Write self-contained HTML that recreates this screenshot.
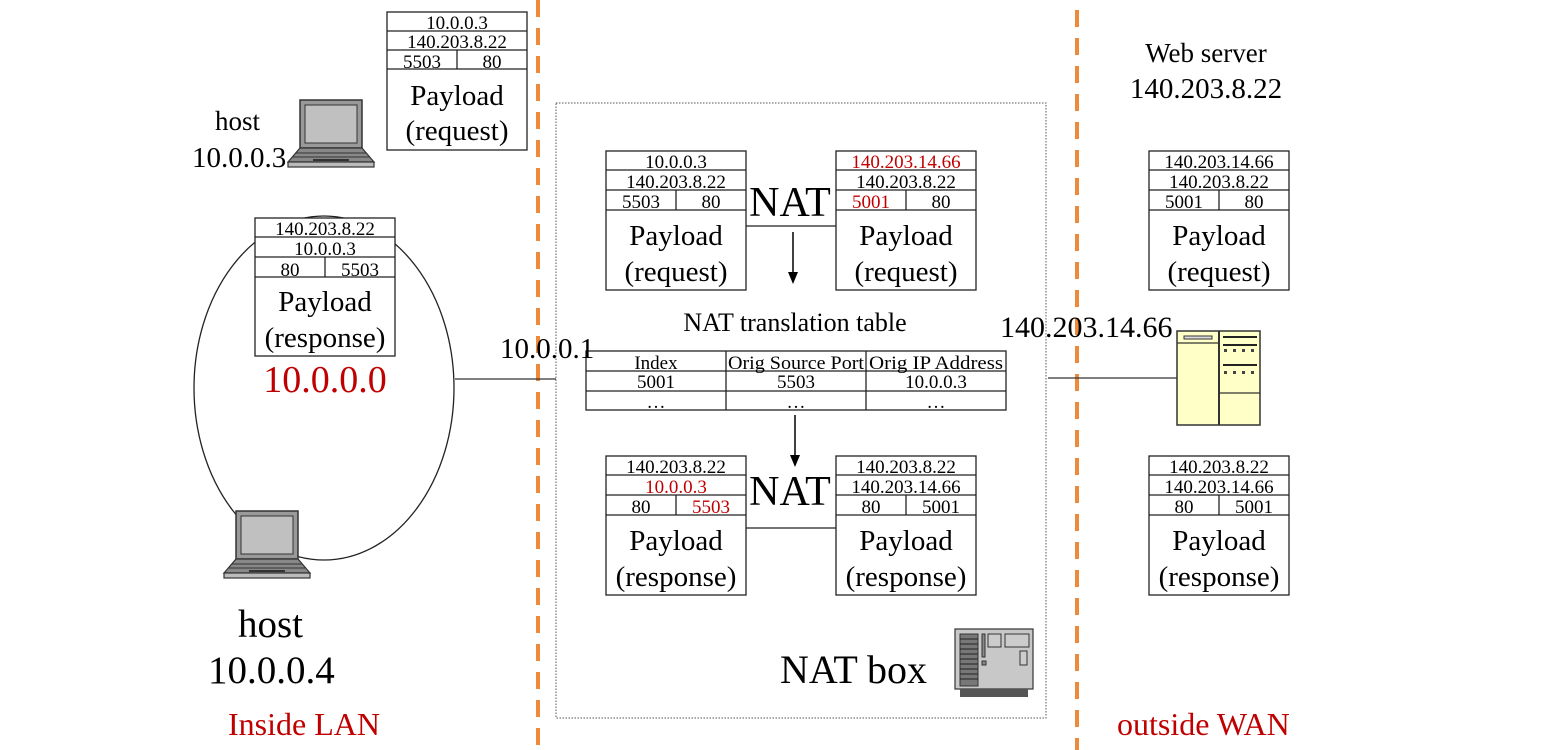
<!DOCTYPE html>
<html><head><meta charset="utf-8"><style>
html,body{margin:0;padding:0;background:#fff;}
svg{display:block;font-family:"Liberation Serif",serif;}
</style></head><body>
<svg width="1542" height="750" viewBox="0 0 1542 750" xmlns="http://www.w3.org/2000/svg">
<defs>
<g id="lap">
  <rect x="12" y="0" width="62" height="48" fill="#999" stroke="#333" stroke-width="1.5"/>
  <rect x="17" y="5" width="52" height="38" fill="#c0c0c0" stroke="#333" stroke-width="1"/>
  <polygon points="12,48 74,48 86,62 0,62" fill="#888" stroke="#333" stroke-width="1.2"/>
  <line x1="8" y1="53" x2="78" y2="53" stroke="#333"/>
  <line x1="5" y1="57" x2="81" y2="57" stroke="#333"/>
  <rect x="25" y="59" width="36" height="2" fill="#333"/>
  <rect x="0" y="62" width="86" height="5" fill="#bbb" stroke="#333" stroke-width="1.2"/>
</g>
</defs>
<line x1="538" y1="0" x2="538" y2="750" stroke="#ef8a3a" stroke-width="4" stroke-dasharray="17,11"/>
<line x1="1077" y1="10" x2="1077" y2="750" stroke="#ef8a3a" stroke-width="4" stroke-dasharray="17,11"/>
<rect x="556" y="103" width="490" height="615" fill="none" stroke="#555" stroke-width="1" stroke-dasharray="1.5,1.5"/>
<ellipse cx="324" cy="388" rx="130" ry="172" fill="none" stroke="#222" stroke-width="1.3"/>
<line x1="455" y1="379" x2="556" y2="379" stroke="#333" stroke-width="1.3"/>
<line x1="1048" y1="378" x2="1178" y2="378" stroke="#333" stroke-width="1.3"/>

<g font-size="19" text-anchor="middle" fill="#000">
<g transform="translate(387,12)">
 <rect x="0" y="0" width="140" height="138" fill="#fff" stroke="#222" stroke-width="1.3"/>
 <line x1="0" y1="19" x2="140" y2="19" stroke="#222" stroke-width="1.3"/><line x1="0" y1="38" x2="140" y2="38" stroke="#222" stroke-width="1.3"/><line x1="0" y1="57" x2="140" y2="57" stroke="#222" stroke-width="1.3"/><line x1="70" y1="38" x2="70" y2="57" stroke="#222" stroke-width="1.3"/>
 <text x="70" y="17">10.0.0.3</text><text x="70" y="36">140.203.8.22</text><text x="35" y="56">5503</text><text x="105" y="56">80</text>
 <text x="70" y="93" font-size="29">Payload</text><text x="70" y="128" font-size="29">(request)</text>
</g>
<g transform="translate(255,218)">
 <rect x="0" y="0" width="140" height="138" fill="#fff" stroke="#222" stroke-width="1.3"/>
 <line x1="0" y1="19" x2="140" y2="19" stroke="#222" stroke-width="1.3"/><line x1="0" y1="39" x2="140" y2="39" stroke="#222" stroke-width="1.3"/><line x1="0" y1="59" x2="140" y2="59" stroke="#222" stroke-width="1.3"/><line x1="70" y1="39" x2="70" y2="59" stroke="#222" stroke-width="1.3"/>
 <text x="70" y="17">140.203.8.22</text><text x="70" y="37">10.0.0.3</text><text x="35" y="58">80</text><text x="105" y="58">5503</text>
 <text x="70" y="93" font-size="29">Payload</text><text x="70" y="129" font-size="29">(response)</text>
</g>
<g transform="translate(606,151)">
 <rect x="0" y="0" width="140" height="139" fill="#fff" stroke="#222" stroke-width="1.3"/>
 <line x1="0" y1="19" x2="140" y2="19" stroke="#222" stroke-width="1.3"/><line x1="0" y1="39" x2="140" y2="39" stroke="#222" stroke-width="1.3"/><line x1="0" y1="59" x2="140" y2="59" stroke="#222" stroke-width="1.3"/><line x1="70" y1="39" x2="70" y2="59" stroke="#222" stroke-width="1.3"/>
 <text x="70" y="17">10.0.0.3</text><text x="70" y="37">140.203.8.22</text><text x="35" y="57">5503</text><text x="105" y="57">80</text>
 <text x="70" y="94" font-size="29">Payload</text><text x="70" y="130" font-size="29">(request)</text>
</g>
<g transform="translate(836,151)">
 <rect x="0" y="0" width="140" height="139" fill="#fff" stroke="#222" stroke-width="1.3"/>
 <line x1="0" y1="19" x2="140" y2="19" stroke="#222" stroke-width="1.3"/><line x1="0" y1="39" x2="140" y2="39" stroke="#222" stroke-width="1.3"/><line x1="0" y1="59" x2="140" y2="59" stroke="#222" stroke-width="1.3"/><line x1="70" y1="39" x2="70" y2="59" stroke="#222" stroke-width="1.3"/>
 <text x="70" y="17" fill="#c00000">140.203.14.66</text><text x="70" y="37">140.203.8.22</text><text x="35" y="57" fill="#c00000">5001</text><text x="105" y="57">80</text>
 <text x="70" y="94" font-size="29">Payload</text><text x="70" y="130" font-size="29">(request)</text>
</g>
<g transform="translate(606,456)">
 <rect x="0" y="0" width="140" height="139" fill="#fff" stroke="#222" stroke-width="1.3"/>
 <line x1="0" y1="19" x2="140" y2="19" stroke="#222" stroke-width="1.3"/><line x1="0" y1="39" x2="140" y2="39" stroke="#222" stroke-width="1.3"/><line x1="0" y1="59" x2="140" y2="59" stroke="#222" stroke-width="1.3"/><line x1="70" y1="39" x2="70" y2="59" stroke="#222" stroke-width="1.3"/>
 <text x="70" y="17">140.203.8.22</text><text x="70" y="37" fill="#c00000">10.0.0.3</text><text x="35" y="57">80</text><text x="105" y="57" fill="#c00000">5503</text>
 <text x="70" y="94" font-size="29">Payload</text><text x="70" y="130" font-size="29">(response)</text>
</g>
<g transform="translate(836,456)">
 <rect x="0" y="0" width="140" height="139" fill="#fff" stroke="#222" stroke-width="1.3"/>
 <line x1="0" y1="19" x2="140" y2="19" stroke="#222" stroke-width="1.3"/><line x1="0" y1="39" x2="140" y2="39" stroke="#222" stroke-width="1.3"/><line x1="0" y1="59" x2="140" y2="59" stroke="#222" stroke-width="1.3"/><line x1="70" y1="39" x2="70" y2="59" stroke="#222" stroke-width="1.3"/>
 <text x="70" y="17">140.203.8.22</text><text x="70" y="37">140.203.14.66</text><text x="35" y="57">80</text><text x="105" y="57">5001</text>
 <text x="70" y="94" font-size="29">Payload</text><text x="70" y="130" font-size="29">(response)</text>
</g>
<g transform="translate(1149,151)">
 <rect x="0" y="0" width="140" height="139" fill="#fff" stroke="#222" stroke-width="1.3"/>
 <line x1="0" y1="19" x2="140" y2="19" stroke="#222" stroke-width="1.3"/><line x1="0" y1="39" x2="140" y2="39" stroke="#222" stroke-width="1.3"/><line x1="0" y1="59" x2="140" y2="59" stroke="#222" stroke-width="1.3"/><line x1="70" y1="39" x2="70" y2="59" stroke="#222" stroke-width="1.3"/>
 <text x="70" y="17">140.203.14.66</text><text x="70" y="37">140.203.8.22</text><text x="35" y="57">5001</text><text x="105" y="57">80</text>
 <text x="70" y="94" font-size="29">Payload</text><text x="70" y="130" font-size="29">(request)</text>
</g>
<g transform="translate(1149,456)">
 <rect x="0" y="0" width="140" height="139" fill="#fff" stroke="#222" stroke-width="1.3"/>
 <line x1="0" y1="19" x2="140" y2="19" stroke="#222" stroke-width="1.3"/><line x1="0" y1="39" x2="140" y2="39" stroke="#222" stroke-width="1.3"/><line x1="0" y1="59" x2="140" y2="59" stroke="#222" stroke-width="1.3"/><line x1="70" y1="39" x2="70" y2="59" stroke="#222" stroke-width="1.3"/>
 <text x="70" y="17">140.203.8.22</text><text x="70" y="37">140.203.14.66</text><text x="35" y="57">80</text><text x="105" y="57">5001</text>
 <text x="70" y="94" font-size="29">Payload</text><text x="70" y="130" font-size="29">(response)</text>
</g>
<g transform="translate(586,351)">
 <rect x="0" y="0" width="420" height="59" fill="#fff" stroke="#222" stroke-width="1.3"/>
 <line x1="0" y1="20" x2="420" y2="20" stroke="#222" stroke-width="1.3"/><line x1="0" y1="40" x2="420" y2="40" stroke="#222" stroke-width="1.3"/>
 <line x1="140" y1="0" x2="140" y2="59" stroke="#222" stroke-width="1.3"/><line x1="280" y1="0" x2="280" y2="59" stroke="#222" stroke-width="1.3"/>
 <text x="70" y="18">Index</text><text x="210" y="18" textLength="136" lengthAdjust="spacingAndGlyphs">Orig Source Port</text><text x="350" y="18" textLength="134" lengthAdjust="spacingAndGlyphs">Orig IP Address</text>
 <text x="70" y="37">5001</text><text x="210" y="37">5503</text><text x="350" y="37">10.0.0.3</text>
 <text x="70" y="57">…</text><text x="210" y="57">…</text><text x="350" y="57">…</text>
</g>
</g>
<line x1="746" y1="226" x2="836" y2="226" stroke="#222" stroke-width="1.3"/>
<line x1="746" y1="528" x2="836" y2="528" stroke="#222" stroke-width="1.3"/>
<line x1="793" y1="232" x2="793" y2="274" stroke="#000" stroke-width="1.5"/>
<polygon points="788,272 798,272 793,284" fill="#000"/>
<line x1="795" y1="415" x2="795" y2="456" stroke="#000" stroke-width="1.5"/>
<polygon points="790,455 800,455 795,467" fill="#000"/>
<g fill="#000">
<text x="790" y="216" font-size="42" text-anchor="middle">NAT</text>
<text x="790" y="505" font-size="42" text-anchor="middle">NAT</text>
<text x="795" y="331" font-size="26" text-anchor="middle">NAT translation table</text>
<text x="500" y="358" font-size="29">10.0.0.1</text>
<text x="1000" y="337" font-size="30">140.203.14.66</text>
<text x="1206" y="62" font-size="27" text-anchor="middle">Web server</text>
<text x="1206" y="98" font-size="29" text-anchor="middle">140.203.8.22</text>
<text x="215" y="130" font-size="27">host</text>
<text x="192" y="167" font-size="29">10.0.0.3</text>
<text x="325" y="392" font-size="38" text-anchor="middle" fill="#c00000">10.0.0.0</text>
<text x="238" y="637" font-size="39">host</text>
<text x="208" y="683" font-size="39">10.0.0.4</text>
<text x="228" y="735" font-size="32" fill="#c00000">Inside LAN</text>
<text x="1117" y="735" font-size="32" fill="#c00000">outside WAN</text>
<text x="780" y="683" font-size="40">NAT box</text>
</g>
<use href="#lap" x="288" y="100"/>
<use href="#lap" x="224" y="511"/>
<g transform="translate(955,629)">
 <rect x="0" y="0" width="78" height="60" fill="#c8c8c8" stroke="#333" stroke-width="1.2"/>
 <rect x="5" y="5" width="18" height="52" fill="#777" stroke="#333"/>
 <g stroke="#222" stroke-width="1"><line x1="5" y1="10" x2="23" y2="10"/><line x1="5" y1="15" x2="23" y2="15"/><line x1="5" y1="20" x2="23" y2="20"/><line x1="5" y1="25" x2="23" y2="25"/><line x1="5" y1="30" x2="23" y2="30"/><line x1="5" y1="35" x2="23" y2="35"/><line x1="5" y1="40" x2="23" y2="40"/><line x1="5" y1="45" x2="23" y2="45"/><line x1="5" y1="50" x2="23" y2="50"/></g>
 <rect x="27" y="5" width="3" height="23" fill="#888" stroke="#333"/>
 <rect x="27" y="32" width="4" height="4" fill="#888" stroke="#333"/>
 <rect x="33" y="5" width="13" height="13" fill="#ccc" stroke="#333"/>
 <rect x="50" y="5" width="24" height="13" fill="#ccc" stroke="#333"/>
 <rect x="65" y="22" width="7" height="14" fill="#ccc" stroke="#333"/>
 <rect x="5" y="60" width="68" height="8" fill="#555"/>
</g>
<g transform="translate(1177,331)">
 <rect x="0" y="0" width="83" height="94" fill="#ffffc8" stroke="#333" stroke-width="1.5"/>
 <line x1="42" y1="0" x2="42" y2="94" stroke="#333" stroke-width="2"/>
 <line x1="0" y1="12" x2="42" y2="12" stroke="#333" stroke-width="1.3"/>
 <rect x="7" y="5" width="28" height="3" fill="#ddd" stroke="#333"/>
 <line x1="42" y1="62" x2="83" y2="62" stroke="#333" stroke-width="1.3"/>
 <g stroke="#222" stroke-width="2"><line x1="46" y1="6" x2="80" y2="6"/><line x1="46" y1="14" x2="80" y2="14"/><line x1="46" y1="34" x2="80" y2="34"/></g>
 <g fill="#444"><rect x="47" y="18" width="3" height="3"/><rect x="56" y="18" width="3" height="3"/><rect x="65" y="18" width="3" height="3"/><rect x="74" y="18" width="3" height="3"/>
 <rect x="47" y="40" width="3" height="3"/><rect x="56" y="40" width="3" height="3"/><rect x="65" y="40" width="3" height="3"/><rect x="74" y="40" width="3" height="3"/></g>
</g>
</svg>
</body></html>
